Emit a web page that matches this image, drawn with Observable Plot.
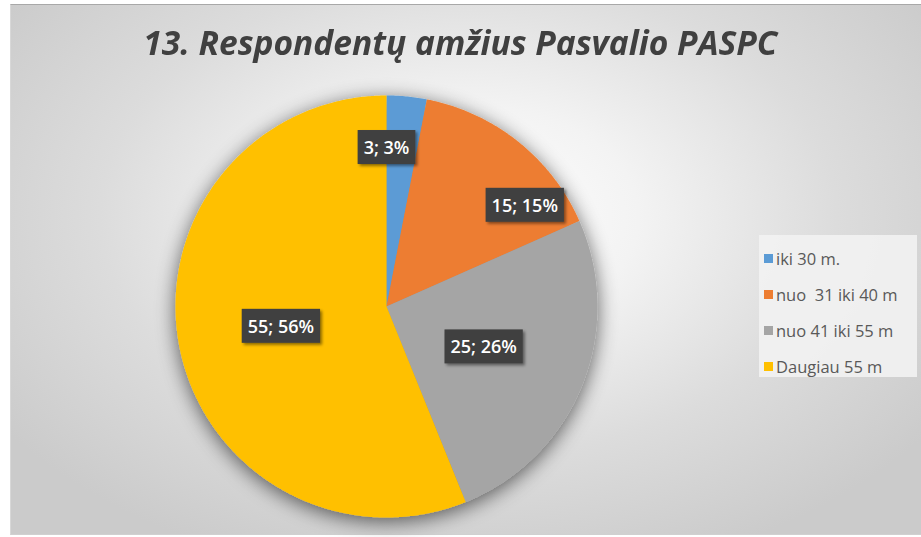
<!DOCTYPE html>
<html>
<head>
<meta charset="utf-8">
<script src="https://cdn.jsdelivr.net/npm/d3@7"></script>
<script src="https://cdn.jsdelivr.net/npm/@observablehq/plot@0.6"></script>
<style>
  html, body { margin: 0; padding: 0; background: #ffffff; }
  #wrap { position: relative; width: 921px; height: 537px; overflow: hidden; font-family: "Open Sans", "Noto Sans", sans-serif; }
  #frame { position: absolute; left: 10px; top: 4px; width: 915px; height: 529px;
    border-top: 1px solid #a8a8a8; border-left: 1px solid #d8d8d8; border-bottom: 1px solid #d0d0d0;
    background: radial-gradient(ellipse 62% 70% at 50% 40%, #ffffff 0%, #f3f3f3 30%, #dcdcdc 65%, #cbcbcb 100%); }
  #title { position: absolute; left: 0; top: 19px; width: 921px; text-align: center; white-space: nowrap;
    font-size: 34px; font-weight: 700; font-style: italic; color: #404040; }
  #title span { display: inline-block; transform-origin: center center; }
  #chart { position: absolute; left: 0; top: 0; }
  #legend { position: absolute; left: 759px; top: 235px; width: 158px; height: 142px; background: rgba(242,242,242,0.9);
    box-sizing: border-box; padding-top: 5px; }
  .item { height: 36px; display: flex; align-items: center; white-space: pre; font-size: 16.5px; color: #595959; padding-left: 5px; }
  .sw { width: 9px; height: 9px; margin-right: 3px; flex: none; }
</style>
</head>
<body>
<div id="wrap">
  <div id="frame"></div>
  <div id="title"><span>13. Respondentų amžius Pasvalio PASPC</span></div>
  <div id="chart"></div>
  <div id="legend"></div>
</div>
<script>
// ---- data ----
const categories = ["iki 30 m.", "nuo  31 iki 40 m", "nuo 41 iki 55 m", "Daugiau 55 m"];
const counts = [3, 15, 25, 55];
const colors = ["#5B9BD5", "#ED7D31", "#A5A5A5", "#FFC000"];

// ---- layout (label placement inside each slice: fraction along slice angle, fraction of radius) ----
const labelAlong = [0.0, 0.78, 0.51, 0.5];
const labelRadius = [0.75, 0.81, 0.5, 0.51];

const W = 921, H = 537;
const cx = 386, cy = 306, R = 211;

const total = d3.sum(counts);
const arcs = d3.pie().sort(null).value(d => d)(counts);

// slice polygons in unit-circle coordinates
const pts = [];
arcs.forEach((a, i) => {
  pts.push({key: categories[i], x: 0, y: 0});
  const n = Math.max(8, Math.ceil((a.endAngle - a.startAngle) / (Math.PI * 2) * 720));
  for (let k = 0; k <= n; k++) {
    const t = a.startAngle + (a.endAngle - a.startAngle) * k / n;
    pts.push({key: categories[i], x: Math.sin(t), y: Math.cos(t)});
  }
});

const labels = arcs.map((a, i) => {
  const t = a.startAngle + (a.endAngle - a.startAngle) * labelAlong[i];
  return {
    x: Math.sin(t) * labelRadius[i],
    y: Math.cos(t) * labelRadius[i],
    text: `${counts[i]}; ${Math.round(counts[i] / total * 100)}%`
  };
});

const plot = Plot.plot({
  width: W, height: H,
  margin: 0,
  style: {background: "transparent", fontFamily: "'Open Sans', sans-serif", overflow: "visible"},
  x: {domain: [(0 - cx) / R, (W - cx) / R], axis: null},
  y: {domain: [(cy - H) / R, cy / R], axis: null},
  color: {domain: categories, range: colors},
  marks: [
    Plot.line(pts, {x: "x", y: "y", z: "key", fill: "key", stroke: "none", curve: "linear-closed", className: "slices"}),
    Plot.text(labels, {x: "x", y: "y", text: "text", fill: "#ffffff", fontSize: 18, fontWeight: 600, className: "plabels"})
  ]
});
document.getElementById("chart").appendChild(plot);

// shadow filter
const svgNS = "http://www.w3.org/2000/svg";
const defs = document.createElementNS(svgNS, "defs");
defs.innerHTML = `
  <filter id="pieShadow" x="-20%" y="-20%" width="140%" height="140%">
    <feGaussianBlur in="SourceAlpha" stdDeviation="10"/>
    <feOffset dx="0" dy="4" result="b"/>
    <feComponentTransfer><feFuncA type="linear" slope="0.6"/></feComponentTransfer>
    <feMerge><feMergeNode/><feMergeNode in="SourceGraphic"/></feMerge>
  </filter>
  <filter id="boxShadow" x="-20%" y="-20%" width="150%" height="160%">
    <feGaussianBlur in="SourceAlpha" stdDeviation="1.5"/>
    <feOffset dx="2" dy="2"/>
    <feComponentTransfer><feFuncA type="linear" slope="0.45"/></feComponentTransfer>
    <feMerge><feMergeNode/><feMergeNode in="SourceGraphic"/></feMerge>
  </filter>`;
plot.insertBefore(defs, plot.firstChild);
const sl = plot.querySelector("g.slices") || plot.querySelector("g[aria-label='line']");
if (sl) sl.setAttribute("filter", "url(#pieShadow)");

// dark label boxes behind label text
const lg = plot.querySelector("g.plabels") || plot.querySelector("g[aria-label='text']");
if (lg) {
  lg.querySelectorAll("text").forEach(t => {
    const b = t.getBBox();
    const r = document.createElementNS(svgNS, "rect");
    const padX = 6, padY = 5;
    r.setAttribute("x", b.x - padX);
    r.setAttribute("y", b.y - padY);
    r.setAttribute("width", b.width + 2 * padX);
    r.setAttribute("height", b.height + 2 * padY);
    r.setAttribute("fill", "#404040");
    r.setAttribute("filter", "url(#boxShadow)");
    const tr = t.getAttribute("transform");
    if (tr) r.setAttribute("transform", tr);
    t.parentNode.insertBefore(r, t);
  });
}

// legend from the plot's color scale
const cs = plot.scale("color");
const legend = document.getElementById("legend");
cs.domain.forEach((c, i) => {
  const it = document.createElement("div");
  it.className = "item";
  const sw = document.createElement("span");
  sw.className = "sw";
  sw.style.background = cs.range[i];
  const tx = document.createElement("span");
  tx.textContent = c;
  it.appendChild(sw); it.appendChild(tx);
  legend.appendChild(it);
});

// fit title width
const ts = document.querySelector("#title span");
const tw = ts.getBoundingClientRect().width;
ts.style.transform = `scaleX(${634 / tw})`;
</script>
</body>
</html>
